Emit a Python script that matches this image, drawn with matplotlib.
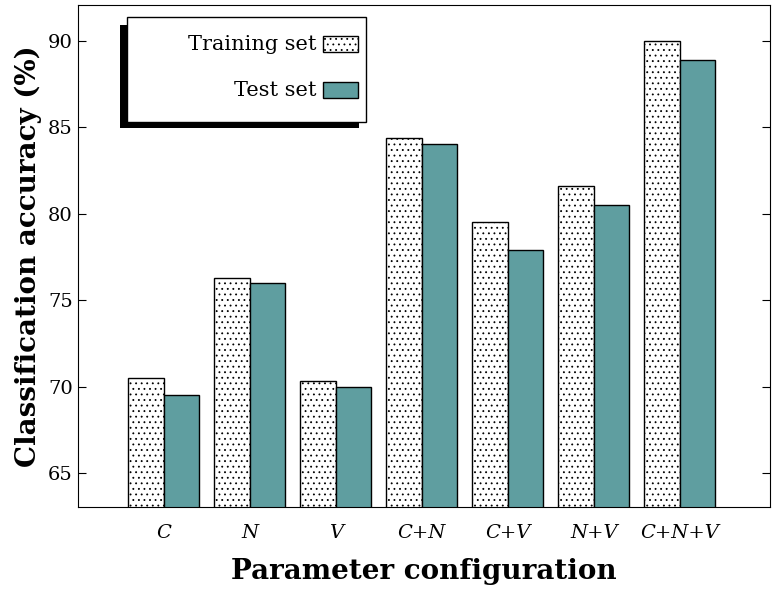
import numpy as np
import matplotlib
matplotlib.use("Agg")
import matplotlib.pyplot as plt
from matplotlib.patches import Rectangle

plt.rcParams['font.family'] = ['DejaVu Serif']
plt.rcParams['hatch.linewidth'] = 0.6

configs = ["C", "N", "V", "C+N", "C+V", "N+V", "C+N+V"]
train_acc = [70.5, 76.3, 70.3, 84.4, 79.5, 81.6, 90.0]
test_acc = [69.5, 76.0, 70.0, 84.0, 77.9, 80.5, 88.9]

x = np.arange(1, len(configs) + 1)
w = 0.41

fig = plt.figure(figsize=(7.77, 5.91), dpi=100)
ax = fig.add_axes([0.1, 0.142, 0.891, 0.85])
ax.bar(x - w / 2, train_acc, w, facecolor="white", edgecolor="black", hatch="...", linewidth=1, label="Training set")
ax.bar(x + w / 2, test_acc, w, facecolor="#5f9ea0", edgecolor="black", linewidth=1, label="Test set")
ax.set_xlim(0, 8.05)
ax.set_ylim(63.03, 92.08)
ax.set_yticks([65, 70, 75, 80, 85, 90])
ax.set_xticks(x)
ax.set_xticklabels(configs, style="italic", fontsize=14)
ax.tick_params(axis="y", labelsize=14, direction="in", length=6)
ax.tick_params(axis="x", direction="in", length=0, pad=12)
ax.tick_params(right=True, axis="y", direction="in")
ax.set_xlabel("Parameter configuration", fontsize=20, fontweight="bold", labelpad=12)
ax.set_ylabel("Classification accuracy (%)", fontsize=20, fontweight="bold")

# legend box with shadow
T = ax.transAxes
ax.add_patch(Rectangle((0.061, 0.755), 0.345, 0.205, transform=T, facecolor="black", zorder=5))
ax.add_patch(Rectangle((0.071, 0.767), 0.345, 0.209, transform=T, facecolor="white", edgecolor="black", zorder=6))
ax.text(0.345, 0.92, "Training set", transform=T, ha="right", va="center", fontsize=15, zorder=7)
ax.text(0.345, 0.83, "Test set", transform=T, ha="right", va="center", fontsize=15, zorder=7)
ax.add_patch(Rectangle((0.345 + 0.01, 0.905), 0.05, 0.032, transform=T, facecolor="white",
                       edgecolor="black", hatch="...", zorder=7))
ax.add_patch(Rectangle((0.345 + 0.01, 0.815), 0.05, 0.032, transform=T, facecolor="#5f9ea0",
                       edgecolor="black", zorder=7))

fig.savefig("out.png")
